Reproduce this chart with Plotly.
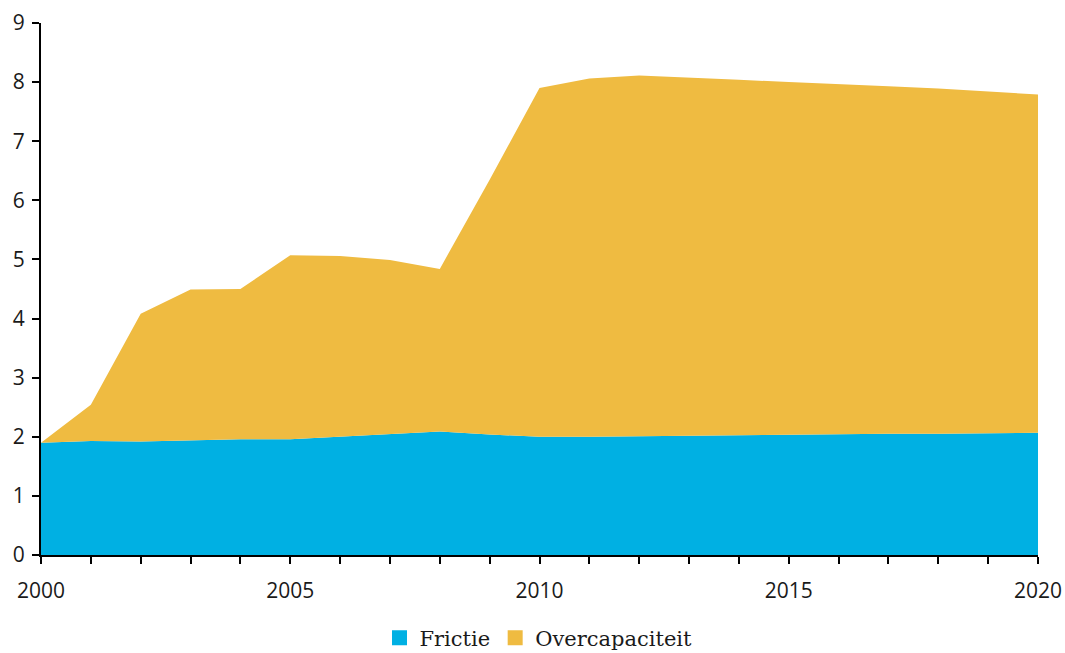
import plotly.graph_objects as go

years = list(range(2000, 2021))

# Frictie (bottom layer)
frictie = [1.90, 1.93, 1.92, 1.94, 1.96, 1.96, 2.00, 2.04, 2.09, 2.04,
           2.00, 2.00, 2.01, 2.02, 2.02, 2.03, 2.04, 2.05, 2.05, 2.06, 2.07]

# total height of the stack (top of the yellow area)
totaal = [1.90, 2.54, 4.08, 4.49, 4.50, 5.07, 5.06, 4.99, 4.84, 6.35,
          7.90, 8.06, 8.11, 8.08, 8.04, 8.00, 7.97, 7.93, 7.89, 7.84, 7.79]

overcapaciteit = [t - f for t, f in zip(totaal, frictie)]

blue = '#00B0E3'
yellow = '#EFBB41'

fig = go.Figure()

fig.add_trace(go.Scatter(x=years, y=frictie, name='Frictie', mode='lines',
                         stackgroup='one', line=dict(width=0, color=blue),
                         fillcolor=blue, showlegend=False))
fig.add_trace(go.Scatter(x=years, y=overcapaciteit, name='Overcapaciteit', mode='lines',
                         stackgroup='one', line=dict(width=0, color=yellow),
                         fillcolor=yellow, showlegend=False))

# legend entries with square swatches
for name, col in [('Frictie', blue), ('Overcapaciteit', yellow)]:
    fig.add_trace(go.Scatter(x=[None], y=[None], name=name, mode='markers',
                             marker=dict(symbol='square', size=15, color=col)))

fig.update_layout(
    width=1065, height=653,
    margin=dict(l=41, r=27, t=23, b=98, autoexpand=False),
    plot_bgcolor='white', paper_bgcolor='white',
    font=dict(family='Open Sans', size=21, color='#1a1a1a'),
    showlegend=True,
    legend=dict(orientation='h', x=0.499, xanchor='center', y=-0.156, yanchor='middle',
                font=dict(family='DejaVu Serif', size=21, color='#1a1a1a'),
                itemwidth=30, traceorder='normal'),
)

fig.update_xaxes(range=[2000, 2020], dtick=5, tick0=2000, showgrid=False, zeroline=False,
                 showline=True, linecolor='black', linewidth=2, automargin=False,
                 ticks='outside', ticklen=7, tickwidth=2, tickcolor='black',
                 ticklabelstandoff=9,
                 minor=dict(dtick=1, ticks='outside', ticklen=7, tickwidth=2,
                            tickcolor='black', showgrid=False))
fig.update_yaxes(range=[0, 9], dtick=1, showgrid=False, zeroline=False,
                 showline=True, linecolor='black', linewidth=2, automargin=False,
                 ticks='outside', ticklen=7, tickwidth=2, tickcolor='black',
                 ticklabelstandoff=3)

# drop the default 8px page margin so the figure fills the window
fig.write_html("out.html", config={'displayModeBar': False},
               post_script="document.body.style.margin='0';")
